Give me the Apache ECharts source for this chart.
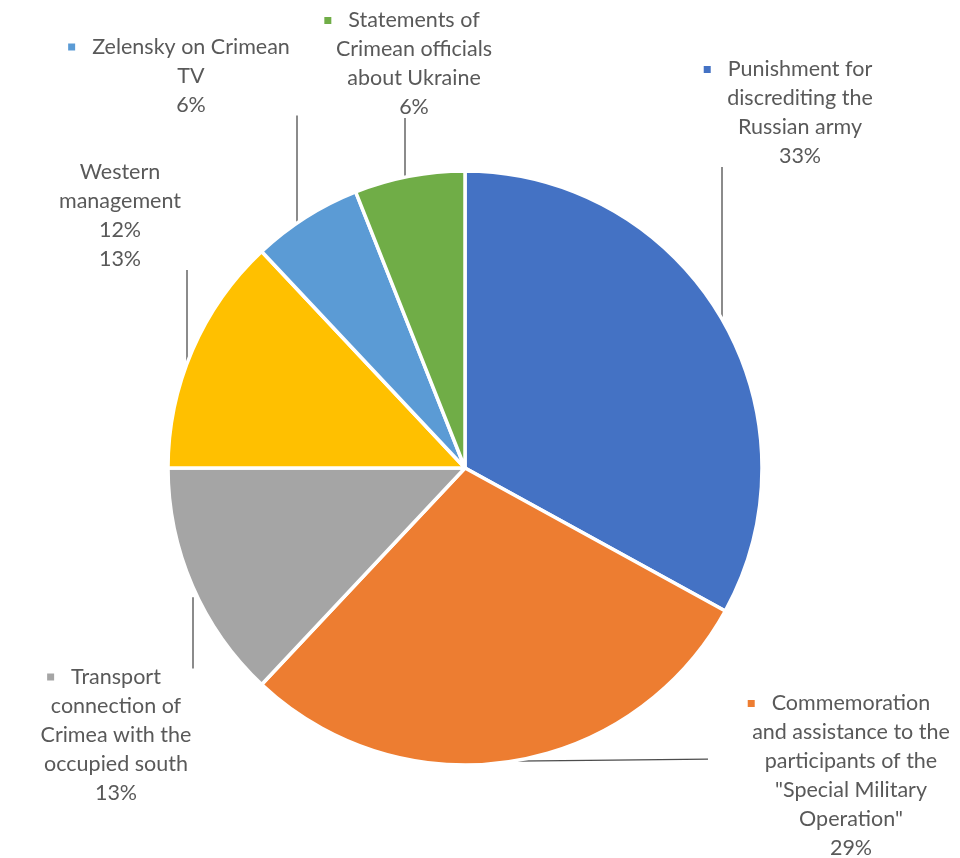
<!DOCTYPE html>
<html>
<head>
<meta charset="utf-8">
<script src="https://cdn.jsdelivr.net/npm/echarts@6/dist/echarts.min.js"></script>
<style>
  html, body { margin: 0; padding: 0; background: #ffffff; }
  #chart { width: 960px; height: 858px; }
</style>
</head>
<body>
<div id="chart"></div>
<script>
// Topics and their shares, clockwise from twelve o'clock
const categories = [
  'Punishment for discrediting the Russian army',
  'Commemoration and assistance to the participants of the "Special Military Operation"',
  'Transport connection of Crimea with the occupied south',
  'Western management',
  'Zelensky on Crimean TV',
  'Statements of Crimean officials about Ukraine'
];
const values = [33, 29, 13, 13, 6, 6];

// Wrapped label text for each slice (percent line is appended from the data)
const labelText = [
  ['Punishment for', 'discrediting the', 'Russian army'],
  ['Commemoration', 'and assistance to the', 'participants of the', '"Special Military', 'Operation"'],
  ['Transport', 'connection of', 'Crimea with the', 'occupied south'],
  ['Western', 'management', '12%'],
  ['Zelensky on Crimean', 'TV'],
  ['Statements of', 'Crimean officials', 'about Ukraine']
];
const showKey = [true, true, true, false, true, true];

const colors = ['#4472C4', '#ED7D31', '#A5A5A5', '#FFC000', '#5B9BD5', '#70AD47'];

// Pie geometry
const CX = 465, CY = 468, R = 297;
const LINE_H = 29;

// Label block centres and leader-line placement
const labelPos = [[800, 113], [851, 776], [116, 735], [120, 216], [191, 76], [414, 64]];
const leaderX = [722, 513, 193, 187, 297, 405];

function edgeY(x, sign) {
  const dx = x - CX;
  return CY + sign * Math.sqrt(Math.max(0, R * R - dx * dx));
}

const chart = echarts.init(document.getElementById('chart'), null, { renderer: 'canvas' });

const rich = {
  t: { fontFamily: 'Lato', fontSize: 21.5, color: '#595959', lineHeight: LINE_H },
  g: { width: 17, height: 7 },
  s: { width: 24, height: 7 }
};
colors.forEach((c, i) => {
  rich['k' + i] = { width: 7, height: 7, backgroundColor: c };
});

function labelFormatter(p) {
  const i = p.dataIndex;
  const lines = labelText[i].slice();
  lines.push(Math.round(p.percent) + '%');
  return lines.map((ln, j) => {
    if (j === 0 && showKey[i]) {
      return '{k' + i + '|}{g|}{t|' + ln + '}{s|}';
    }
    return '{t|' + ln + '}';
  }).join('\n');
}

function lineCount(i) {
  return labelText[i].length + 1;
}

chart.setOption({
  backgroundColor: '#ffffff',
  animation: false,
  color: colors,
  series: [{
    type: 'pie',
    center: [CX, CY],
    radius: [0, R],
    startAngle: 90,
    clockwise: true,
    avoidLabelOverlap: false,
    itemStyle: { borderColor: '#ffffff', borderWidth: 3.5 },
    label: {
      show: true,
      position: 'outside',
      formatter: labelFormatter,
      rich: rich,
      align: 'center'
    },
    labelLine: {
      show: true,
      smooth: false,
      lineStyle: { color: '#4d4d4d', width: 1.3 }
    },
    emphasis: { disabled: true },
    labelLayout: function (params) {
      const i = params.dataIndex;
      const [x, y] = labelPos[i];
      const half = lineCount(i) * LINE_H / 2;
      const lx = leaderX[i];
      let pts;
      if (i === 1) {
        const ey = edgeY(lx, 1);
        pts = [[lx, ey], [lx + 100, ey - 1], [708, ey - 2]];
      } else if (i === 2) {
        const ey = edgeY(lx, 1) + 10;
        const ty = y - half + 6;
        pts = [[lx, ey], [lx, (ey + ty) / 2], [lx, ty]];
      } else {
        const ey = edgeY(lx, -1);
        const by = y + half - 4;
        pts = [[lx, by], [lx, (ey + by) / 2], [lx, ey]];
      }
      return {
        x: x,
        y: y,
        align: 'center',
        verticalAlign: 'middle',
        labelLinePoints: pts
      };
    },
    data: categories.map((name, i) => ({ name: name, value: values[i] }))
  }]
});
</script>
</body>
</html>
